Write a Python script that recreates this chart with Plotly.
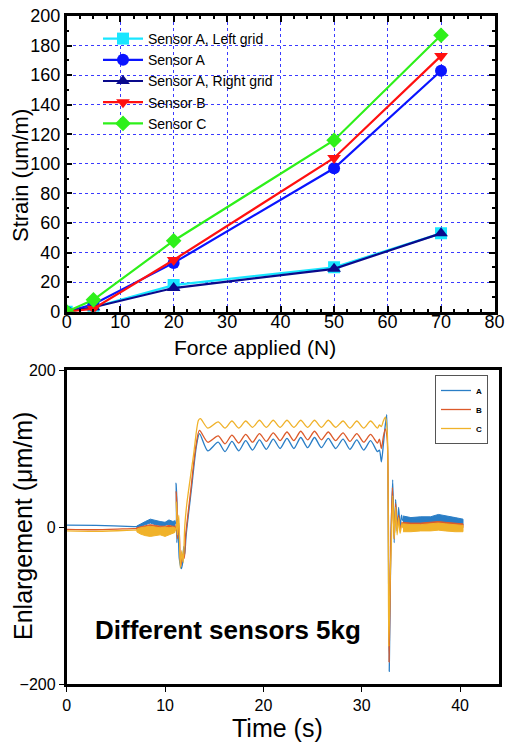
import plotly.graph_objects as go

# ---------------- Top chart data ----------------
force = [0, 5, 20, 50, 70]
sensor_a_left = [0, 3, 18, 30, 53]
sensor_a = [0, 5, 33, 97, 163]
sensor_a_right = [0, 3, 16, 29, 53]
sensor_b = [0, 2, 35, 104, 173]
sensor_c = [0, 8, 48, 116, 187]

# ---------------- Bottom chart data ----------------
plateau_t = [15.4, 16.1, 16.8, 17.5, 18.2, 18.9, 19.6, 20.3, 21.0, 21.7, 22.4, 23.1,
             23.8, 24.5, 25.2, 25.9, 26.6, 27.35, 28.1, 28.8, 29.5, 30.2, 30.9, 31.6]
plateau_a = [108, 96, 109, 97, 110, 98, 111, 99, 112, 100, 113, 100,
             114, 101, 114, 101, 113, 100, 112, 99, 111, 98, 110, 96]
plateau_b = [116, 106, 117, 107, 118, 108, 119, 109, 120, 110, 121, 110,
             122, 111, 122, 111, 121, 110, 120, 109, 119, 108, 118, 107]
plateau_c = [134, 126, 135, 126, 135, 127, 136, 127, 136, 127, 136, 127,
             136, 127, 136, 127, 136, 127, 135, 126, 135, 126, 135, 126]

pre_a_t = [0, 3, 6.8, 7.1, 8.5, 11.0, 11.12, 11.2, 11.3, 11.45, 11.65, 11.8, 11.9,
           12.0, 12.15, 12.7, 13.2, 13.5, 14.35]
pre_a = [2.5, 2, 0.5, 0.5, 7, 4, 56, -20, 10, -40, -53, -45, -25,
         -35, -10, 50, 104, 119, 97]
post_a_t = [31.8, 32.0, 32.2, 32.4, 32.55, 32.8, 32.95, 33.15, 33.3, 33.45, 33.6,
            33.75, 33.9, 34.05, 34.2, 37.8, 40.3]
post_a = [98, 83, 105, 130, 143, -184, -30, 60, -20, 35, -5,
          25, 0, 15, 8, 11, 6]

pre_b_t = [0, 3, 6.8, 7.1, 11.0, 11.13, 11.25, 11.4, 11.6, 11.8, 11.95, 12.1,
           12.6, 13.1, 13.5, 14.35]
pre_b = [-3, -3.5, -2, -2, -2, 45, -15, 5, -50, -35, -40, -10,
         45, 100, 123, 108]
post_b_t = [31.8, 32.0, 32.2, 32.4, 32.6, 32.78, 32.95, 33.12, 33.3, 33.45, 33.6,
            33.75, 33.9, 34.1, 34.2, 40.3]
post_b = [112, 100, 115, 125, 110, -172, -30, 50, -15, 30, -5,
          15, -3, 6, 3, 2]

pre_c_t = [0, 3, 6.8, 7.1, 11.0, 11.15, 11.25, 11.4, 11.55, 11.7, 11.85, 12.0,
           12.2, 12.9, 13.4, 13.6, 14.35]
pre_c = [-5, -5.5, -4, -4, -5, 32, -10, 15, -52, -30, -45, 0,
         28, 92, 136, 138, 126]
post_c_t = [31.8, 32.0, 32.2, 32.4, 32.6, 32.75, 32.9, 33.0, 33.15, 33.3, 33.45,
            33.6, 33.75, 33.9, 34.1, 34.2, 40.3]
post_c = [130, 128, 135, 140, 120, -152, -60, -25, 40, -15, 25,
          -10, 12, -8, 5, -1, -1]

# noisy bands (upper / lower envelopes)
band1_t = [7.1, 7.5, 8.0, 8.5, 9.0, 9.5, 10.0, 10.4, 10.8, 11.0]
a_b1_hi = [1, 4, 7, 10, 8, 7, 6, 9, 7, 8]
a_b1_lo = [-1, 1, 3, 5, 3, 2, 2, 4, 1, 1]
b_b1_hi = [-1, 0, 2, 3, 2, 1, 1, 2, 1, 1]
b_b1_lo = [-3, -4, -5, -5, -5, -4, -4, -5, -4, -4]
c_b1_hi = [-3, -1, 0, 1, 0, -1, 0, -1, 0, -1]
c_b1_lo = [-6, -9, -11, -12, -11, -10, -12, -9, -8, -7]

band2_t = [34.2, 35.0, 36.0, 37.0, 37.8, 38.5, 39.5, 40.3]
a_b2_hi = [14, 12, 13, 13, 16, 14, 12, 10]
a_b2_lo = [3, 3, 4, 4, 6, 4, 3, 2]
b_b2_hi = [6, 5, 5, 6, 7, 6, 5, 4]
b_b2_lo = [0, 0, 0, 1, 1, 0, 0, -1]
c_b2_hi = [4, 3, 3, 4, 5, 4, 3, 2]
c_b2_lo = [-6, -6, -5, -5, -4, -5, -6, -6]

W, H = 505, 746
FONT = "Liberation Sans, Arial, sans-serif"


def px(x):
    return x / W


def py(y):
    return 1 - y / H


fig = go.Figure()

# ---- top traces ----
top_series = [
    ("Sensor A, Left grid", sensor_a_left, "#19e6ff", "square"),
    ("Sensor A", sensor_a, "#0a14ff", "circle"),
    ("Sensor A, Right grid", sensor_a_right, "#0a0a8c", "triangle-up"),
    ("Sensor B", sensor_b, "#ff1010", "triangle-down"),
    ("Sensor C", sensor_c, "#2ef01a", "diamond"),
]
for name, vals, col, sym in top_series:
    fig.add_trace(go.Scatter(
        x=force, y=vals, name=name, mode="lines+markers",
        line=dict(color=col, width=2.2),
        marker=dict(symbol=sym, size=12, color=col),
        xaxis="x", yaxis="y", legend="legend"))

# ---- bottom traces ----
cols = {"A": "#2a7ec6", "B": "#dc5a2a", "C": "#f0b22a"}
bottom = [
    ("A", pre_a_t, pre_a, plateau_a, post_a_t, post_a,
     a_b1_hi, a_b1_lo, a_b2_hi, a_b2_lo),
    ("B", pre_b_t, pre_b, plateau_b, post_b_t, post_b,
     b_b1_hi, b_b1_lo, b_b2_hi, b_b2_lo),
    ("C", pre_c_t, pre_c, plateau_c, post_c_t, post_c,
     c_b1_hi, c_b1_lo, c_b2_hi, c_b2_lo),
]
for name, pt, pv, plat, qt, qv, h1, l1, h2, l2 in bottom:
    col = cols[name]
    for bt, hi, lo in ((band1_t, h1, l1), (band2_t, h2, l2)):
        fig.add_trace(go.Scatter(
            x=bt + bt[::-1], y=hi + lo[::-1], fill="toself",
            fillcolor=col, line=dict(color=col, width=1),
            mode="lines", showlegend=False, hoverinfo="skip",
            xaxis="x2", yaxis="y2"))
    fig.add_trace(go.Scatter(
        x=pt + plateau_t + qt, y=pv + plat + qv, name=name, mode="lines",
        line=dict(color=col, width=1.3, shape="spline", smoothing=0.7),
        xaxis="x2", yaxis="y2", legend="legend2"))

# ---- axes ----
top_x0, top_x1, top_y0, top_y1 = 66.7, 494.5, 16, 311.7
bot_x0, bot_x1, bot_y0, bot_y1 = 66.7, 499.4, 370, 684

common_top = dict(showline=True, linecolor="black", linewidth=2.5, mirror="ticks",
                  ticks="inside", ticklen=6, tickwidth=1.5, tickcolor="black",
                  showgrid=True, gridcolor="#3a3aff", griddash="dot", gridwidth=1,
                  zeroline=False, automargin=False,
                  tickfont=dict(size=18, family=FONT, color="black"))
common_bot = dict(showline=True, linecolor="black", linewidth=2.8, mirror=True,
                  ticks="outside", ticklen=5, tickwidth=1.2, tickcolor="black",
                  showgrid=False, zeroline=False, automargin=False,
                  tickfont=dict(size=16, family=FONT, color="black"))
fig.update_layout(
    xaxis=dict(domain=[px(top_x0), px(top_x1)], range=[0, 80], dtick=10,
               anchor="y", ticklabelstandoff=-8,
               minor=dict(dtick=2.5, ticks="inside", ticklen=3, tickcolor="black",
                          showgrid=False),
               **common_top),
    yaxis=dict(domain=[py(top_y1), py(top_y0)], range=[0, 200], dtick=20,
               anchor="x",
               minor=dict(dtick=10, ticks="inside", ticklen=3, tickcolor="black",
                          showgrid=False),
               **common_top),
    xaxis2=dict(domain=[px(bot_x0), px(bot_x1)], range=[0, 44],
                tickvals=[0, 10, 20, 30, 40], anchor="y2", **common_bot),
    yaxis2=dict(domain=[py(bot_y1), py(bot_y0)], range=[-200, 200],
                tickvals=[-200, 0, 200], anchor="x2", **common_bot),
)

fig.update_layout(
    width=W, height=H, margin=dict(l=0, r=0, t=0, b=0, autoexpand=False),
    paper_bgcolor="white", plot_bgcolor="white",
    font=dict(family=FONT, color="black"),
    legend=dict(x=px(98), y=py(23), xanchor="left", yanchor="top",
                bgcolor="rgba(0,0,0,0)", font=dict(size=14, family=FONT),
                itemwidth=40, tracegroupgap=0),
    legend2=dict(x=px(488), y=py(375), xanchor="right", yanchor="top",
                 bgcolor="white", bordercolor="#555555", borderwidth=1,
                 font=dict(size=8, family=FONT, weight="bold"),
                 itemwidth=30, tracegroupgap=0),
    annotations=[
        dict(text="Strain (um/m)", x=px(21), y=py(176), textangle=-90,
             font=dict(size=22)),
        dict(text="Force applied (N)", x=px(255), y=py(347), font=dict(size=21)),
        dict(text="Enlargement (μm/m)", x=px(23), y=py(526), textangle=-90,
             font=dict(size=25)),
        dict(text="Time (s)", x=px(277), y=py(728), font=dict(size=25)),
        dict(text="<b>Different sensors 5kg</b>", x=px(228), y=py(630),
             font=dict(size=26)),
    ],
)
fig.update_annotations(xref="paper", yref="paper", showarrow=False,
                       xanchor="center", yanchor="middle")

fig.write_html("out.html")
